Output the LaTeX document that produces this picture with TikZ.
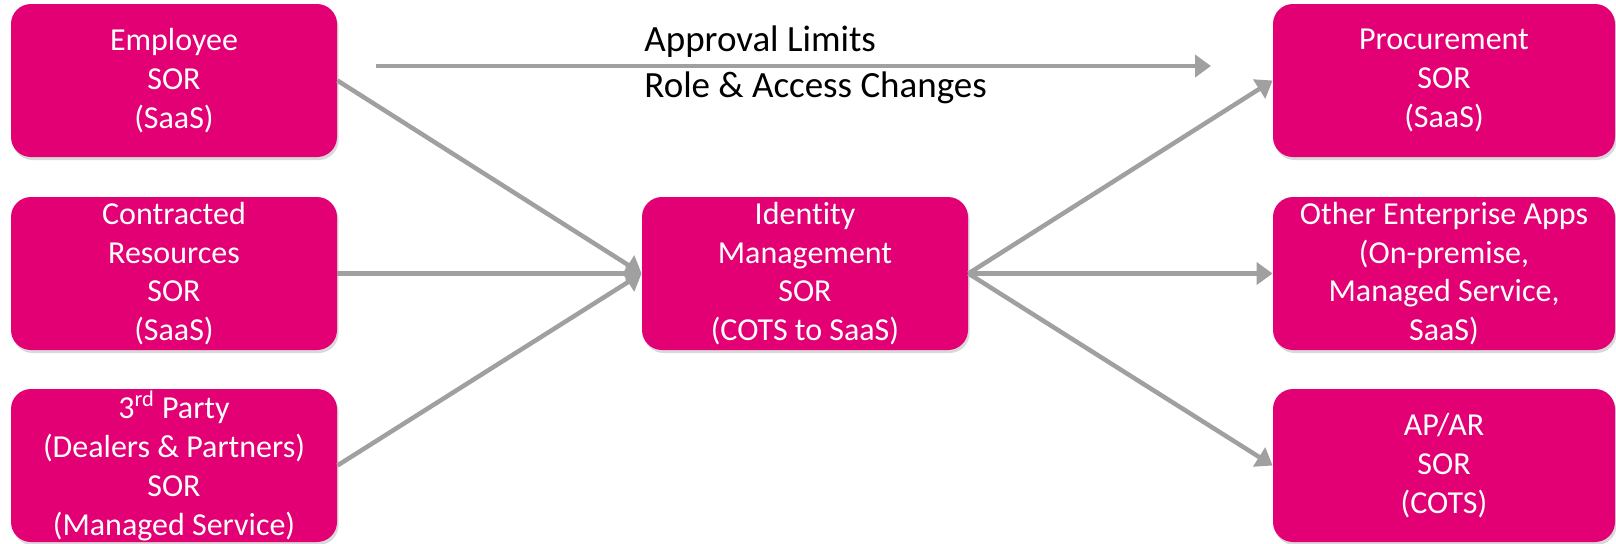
\documentclass[tikz,border=0pt]{standalone}
\usepackage{fontspec}
\setmainfont{Carlito}[Ligatures=NoCommon]
\usetikzlibrary{arrows.meta,shadows}
\definecolor{tmag}{HTML}{E20074}
\definecolor{arrgray}{HTML}{A0A0A0}
\tikzset{
  sorbox/.style={fill=tmag, rounded corners=10pt, text=white, align=center,
    minimum width=163pt, minimum height=76.5pt, inner sep=0pt,
    font=\fontsize{16}{19.4}\selectfont,
    drop shadow={opacity=0.3, shadow xshift=0.8pt, shadow yshift=-1.5pt}},
  widebox/.style={sorbox, minimum width=171pt},
  conn/.style={draw=arrgray, line width=2.25pt, -{Triangle[length=8pt,width=11pt]}},
  toplabel/.style={anchor=west, inner sep=0pt, font=\fontsize{18.5}{22}\selectfont}
}
\begin{document}
\begin{tikzpicture}[x=0.5pt,y=-0.5pt]
\useasboundingbox (0,0) rectangle (1616,543);
\node[sorbox] (emp) at (174,80.5) {Employee\\SOR\\(SaaS)};
\node[sorbox] (con) at (174,273.5) {Contracted\\Resources\\SOR\\(SaaS)};
\node[sorbox] (third) at (174,465.5) {3\textsuperscript{rd} Party\\(Dealers \& Partners)\\SOR\\(Managed Service)};
\node[sorbox] (idm) at (805,273.5) {Identity\\Management\\SOR\\(COTS to SaaS)};
\node[widebox] (proc) at (1444,80.5) {Procurement\\SOR\\(SaaS)};
\node[widebox] (other) at (1444,273.5) {Other Enterprise Apps\\(On-premise,\\Managed Service,\\SaaS)};
\node[widebox] (apar) at (1444,465.5) {AP/AR\\SOR\\(COTS)};
\coordinate (ts) at (376,66);
\coordinate (te) at (1211,66);
\node[toplabel] (al) at (644,42) {Approval Limits};
\node[toplabel] (rac) at (644,88) {Role \& Access Changes};
\draw[conn] (ts) -- (te);
\draw[conn] (emp.east) -- (idm.west);
\draw[conn] (con.east) -- (idm.west);
\draw[conn] (third.east) -- (idm.west);
\draw[conn] (idm.east) -- (proc.west);
\draw[conn] (idm.east) -- (other.west);
\draw[conn] (idm.east) -- (apar.west);
\end{tikzpicture}
\end{document}
